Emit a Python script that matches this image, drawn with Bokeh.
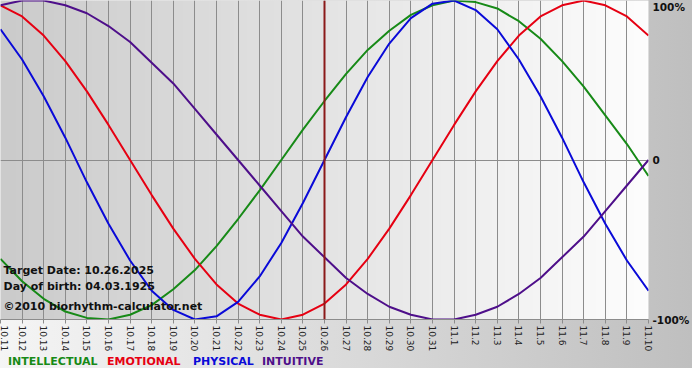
import math
import numpy as np
from bokeh.plotting import figure
from bokeh.models import FixedTicker, Span, Label, LinearAxis, Div
from bokeh.layouts import column
from bokeh.embed import file_html
from bokeh.resources import INLINE

# ---- data ----
day_labels = ["10.11", "10.12", "10.13", "10.14", "10.15", "10.16", "10.17", "10.18",
              "10.19", "10.20", "10.21", "10.22", "10.23", "10.24", "10.25", "10.26",
              "10.27", "10.28", "10.29", "10.30", "10.31", "11.1", "11.2", "11.3",
              "11.4", "11.5", "11.6", "11.7", "11.8", "11.9", "11.10"]
target_label = "10.26"

physical = [0.82, 0.63, 0.40, 0.14, -0.14, -0.40, -0.63, -0.82, -0.94, -1.00, -0.98,
            -0.89, -0.73, -0.52, -0.27, 0.00, 0.27, 0.52, 0.73, 0.89, 0.98, 1.00,
            0.94, 0.82, 0.63, 0.40, 0.14, -0.14, -0.40, -0.63, -0.82]
emotional = [0.97, 0.90, 0.78, 0.62, 0.43, 0.22, 0.00, -0.22, -0.43, -0.62, -0.78,
             -0.90, -0.97, -1.00, -0.97, -0.90, -0.78, -0.62, -0.43, -0.22, 0.00, 0.22,
             0.43, 0.62, 0.78, 0.90, 0.97, 1.00, 0.97, 0.90, 0.78]
intellectual = [-0.62, -0.76, -0.87, -0.95, -0.99, -1.00, -0.97, -0.91, -0.81, -0.69,
                -0.54, -0.37, -0.19, 0.00, 0.19, 0.37, 0.54, 0.69, 0.81, 0.91, 0.97,
                1.00, 0.99, 0.95, 0.87, 0.76, 0.62, 0.46, 0.28, 0.10, -0.10]
intuitive = [0.97, 1.00, 1.00, 0.97, 0.92, 0.84, 0.74, 0.61, 0.48, 0.32, 0.16, 0.00,
             -0.16, -0.32, -0.48, -0.61, -0.74, -0.84, -0.92, -0.97, -1.00, -1.00,
             -0.97, -0.92, -0.84, -0.74, -0.61, -0.48, -0.32, -0.16, 0.00]

y_tick_values = [1, 0, -1]
y_tick_labels = ["100%", "0", "-100%"]

info_lines = ["Target Date: 10.26.2025", "Day of birth: 04.03.1925",
              "\u00a92010 biorhythm-calculator.net"]

series_names = ["INTELLECTUAL", "EMOTIONAL", "PHYSICAL", "INTUITIVE"]
series_values = [intellectual, emotional, physical, intuitive]
series_colors = ["#178a17", "#e60012", "#0a0ad8", "#4e0f8a"]

idx = list(range(len(day_labels)))
n = len(day_labels) - 1
FRAME_H = 321

p = figure(width=692, height=354, x_range=(0, n), y_range=(-1, 1),
           output_backend="svg", toolbar_location=None, y_axis_location=None,
           min_border_left=0, min_border_right=42, min_border_top=0,
           min_border_bottom=33)
p.border_fill_color = None
p.outline_line_color = None
p.background_fill_color = "#e4e4e4"

# frame gradient background (style)
ncol = 256
g = np.linspace(203, 253, ncol).astype(np.uint8)
rgba = np.zeros((1, ncol, 4), dtype=np.uint8)
rgba[..., 0] = g
rgba[..., 1] = g
rgba[..., 2] = g
rgba[..., 3] = 255
img = rgba.view(dtype=np.uint32).reshape((1, ncol))
p.image_rgba(image=[img], x=0, y=-1, dw=n, dh=2, level="image")

# grid
ticker = FixedTicker(ticks=idx)
p.xgrid.ticker = ticker
p.xgrid.grid_line_color = "#8c8c8c"
p.xgrid.grid_line_width = 1
p.ygrid.ticker = FixedTicker(ticks=[0])
p.ygrid.grid_line_color = "#8c8c8c"
p.ygrid.grid_line_width = 1

# x axis
ax = p.xaxis[0]
ax.ticker = ticker
ax.major_label_overrides = {i: lab for i, lab in zip(idx, day_labels)}
ax.major_label_orientation = -math.pi / 2
ax.major_label_text_font = "DejaVu Sans"
ax.major_label_text_font_size = "9px"
ax.major_label_text_color = "#222222"
ax.major_label_standoff = 2
ax.axis_line_color = "#8c8c8c"
ax.major_tick_line_color = "#8c8c8c"
ax.major_tick_out = 4
ax.major_tick_in = 0
ax.minor_tick_line_color = None

# right value axis; the top label sits just inside the top edge as in the reference
top_shift = 7.0 / (FRAME_H / 2.0)
label_pos = [v - top_shift if v == max(y_tick_values) else v for v in y_tick_values]
ry = LinearAxis(ticker=FixedTicker(ticks=label_pos),
                major_label_overrides={pos: lab for pos, lab in zip(label_pos, y_tick_labels)})
ry.axis_line_color = None
ry.major_tick_line_color = None
ry.minor_tick_line_color = None
ry.major_tick_out = 0
ry.major_tick_in = 0
ry.major_label_standoff = 4
ry.major_label_text_font = "DejaVu Sans"
ry.major_label_text_font_style = "bold"
ry.major_label_text_font_size = "10.5px"
ry.major_label_text_color = "#111111"
p.add_layout(ry, "right")

# target day line
p.add_layout(Span(location=day_labels.index(target_label), dimension="height",
                  line_color="#8b1a1a", line_width=2))

# curves
for vals, col in zip(series_values, series_colors):
    p.line(idx, vals, line_color=col, line_width=2)

# info text inside the plot
info_y = [-0.69, -0.79, -0.92]
for t, yy in zip(info_lines, info_y):
    p.add_layout(Label(x=0, y=yy, x_offset=3, text=t, text_font="DejaVu Sans",
                       text_font_style="bold", text_font_size="11px",
                       text_color="#111111", text_baseline="middle"))

# legend row (coloured texts)
leg_left = [8, 107, 193, 262]
spans = "".join(
    f"<span style='position:absolute;left:{x}px;top:1px;color:{c}'>{nm}</span>"
    for nm, c, x in zip(series_names, series_colors, leg_left))
legend_div = Div(text=f"<div style='position:relative;height:14px'>{spans}</div>",
                 width=692, height=14,
                 styles={"font-family": "DejaVu Sans", "font-weight": "bold",
                         "font-size": "11px", "line-height": "14px",
                         "white-space": "nowrap", "margin": "0", "padding": "0"})

layout = column(p, legend_div, spacing=0,
                styles={"background": "linear-gradient(to right, #f5f5f5, #bfbfbf)"})

open("out.html", "w").write(file_html(layout, INLINE))
